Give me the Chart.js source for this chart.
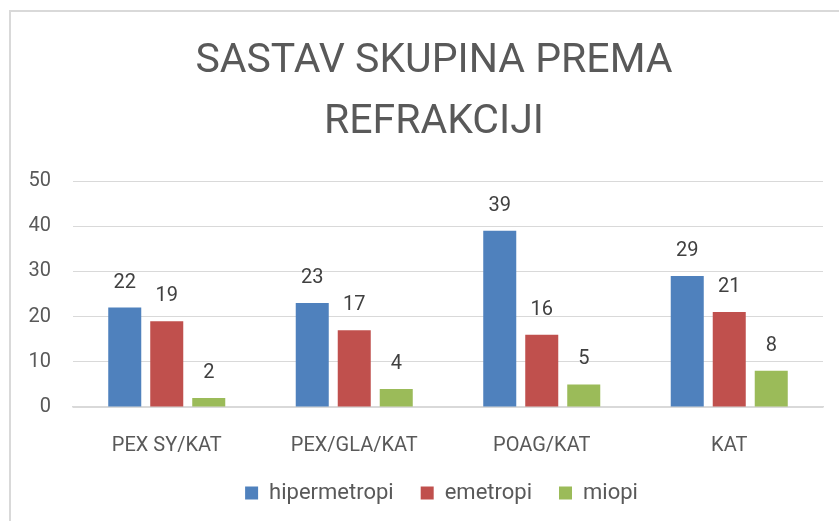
<!DOCTYPE html>
<html>
<head>
<meta charset="utf-8">
<script src="https://cdn.jsdelivr.net/npm/chart.js@4"></script>
<style>
  html, body { margin: 0; padding: 0; background: #fff; overflow: hidden; }
  #wrap { position: relative; width: 839px; height: 521px; }
  #frame {
    position: absolute; left: 9px; top: 10px; width: 900px; height: 600px;
    border-left: 2px solid #d9d9d9; border-top: 2px solid #d9d9d9;
    pointer-events: none;
  }
</style>
</head>
<body>
<div id="wrap">
  <canvas id="myChart" width="839" height="521"></canvas>
  <div id="frame"></div>
</div>
<script>
const categories = ['PEX SY/KAT', 'PEX/GLA/KAT', 'POAG/KAT', 'KAT'];
const hipermetropi = [22, 23, 39, 29];
const emetropi = [19, 17, 16, 21];
const miopi = [2, 4, 5, 8];
const yTicks = [0, 10, 20, 30, 40, 50];

const ctx = document.getElementById('myChart');
const font = 'Roboto';

// value labels above each bar
const barLabels = {
    id: 'barLabels',
    afterDatasetsDraw(chart) {
        const c = chart.ctx;
        c.save();
        c.font = '20px ' + font;
        c.fillStyle = '#404040';
        c.textAlign = 'center';
        c.textBaseline = 'middle';
        chart.data.datasets.forEach((ds, i) => {
            chart.getDatasetMeta(i).data.forEach((bar, j) => {
                c.fillText(ds.data[j], bar.x, bar.y - 25);
            });
        });
        c.restore();
    }
};

// title and legend are centred on the whole chart frame, not the plot
const recenter = {
    id: 'recenter',
    afterLayout(chart) {
        chart.titleBlock.left = 45;
        chart.legend.left = 60;
    }
};

const chart = new Chart(ctx, {
    type: 'bar',
    data: {
        labels: categories,
        datasets: [
            { label: 'hipermetropi', data: hipermetropi, backgroundColor: '#4f81bd' },
            { label: 'emetropi', data: emetropi, backgroundColor: '#c0504d' },
            { label: 'miopi', data: miopi, backgroundColor: '#9bbb59' }
        ]
    },
    options: {
        responsive: false,
        animation: false,
        events: [],
        categoryPercentage: 0.672,
        barPercentage: 0.786,
        layout: { padding: { left: 20, right: 16, top: 0, bottom: 7 } },
        plugins: {
            title: {
                display: true,
                text: ['SASTAV SKUPINA PREMA', 'REFRAKCIJI'],
                color: '#595959',
                font: { family: font, size: 41, weight: 'normal', lineHeight: 1.488 },
                padding: { top: 31, bottom: 28 }
            },
            legend: {
                position: 'bottom',
                labels: {
                    boxWidth: 13,
                    boxHeight: 13,
                    padding: 27,
                    color: '#595959',
                    font: { family: font, size: 22 }
                }
            },
            tooltip: { enabled: false }
        },
        scales: {
            x: {
                grid: { display: false },
                border: { color: '#d9d9d9', width: 1.5 },
                ticks: {
                    padding: 19,
                    color: '#595959',
                    font: { family: font, size: 20 }
                },
                afterFit(scale) { scale.height = 48; }
            },
            y: {
                min: 0,
                max: 50,
                afterBuildTicks(scale) { scale.ticks = yTicks.map(v => ({ value: v })); },
                grid: { color: '#d9d9d9', drawTicks: false },
                border: { display: false },
                ticks: {
                    padding: 22,
                    color: '#595959',
                    font: { family: font, size: 20 }
                },
                afterFit(scale) { scale.width = 53; }
            }
        }
    },
    plugins: [barLabels, recenter]
});
</script>
</body>
</html>
